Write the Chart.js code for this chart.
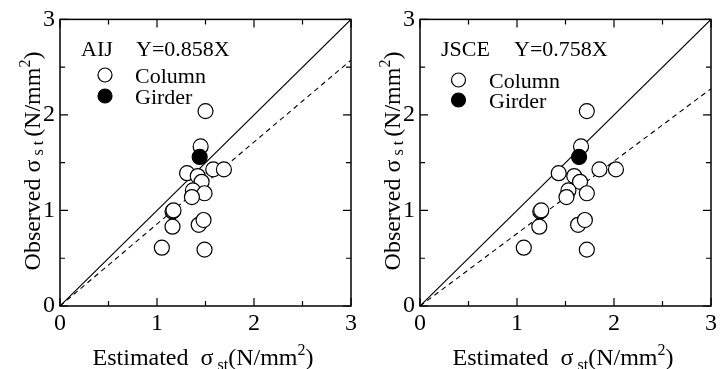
<!DOCTYPE html>
<html>
<head>
<meta charset="utf-8">
<script src="https://cdn.jsdelivr.net/npm/chart.js@4"></script>
<style>
  body { margin: 0; background: #fff; }
  .wrap { display: flex; width: 720px; height: 369px; }
  .box { width: 360px; height: 369px; position: relative; }
</style>
</head>
<body>
<div class="wrap">
  <div class="box"><canvas id="c1"></canvas></div>
  <div class="box"><canvas id="c2"></canvas></div>
</div>
<script>
// observed stress, same for both panels
const observed = [2.04, 1.67, 1.39, 1.43, 1.43, 1.36, 1.30, 1.21, 1.18, 1.14, 0.99, 1.00, 0.83, 0.85, 0.90, 0.61, 0.59];
// estimated stress, AIJ / JSCE
const estAIJ  = [1.50, 1.45, 1.31, 1.58, 1.69, 1.42, 1.46, 1.37, 1.49, 1.36, 1.16, 1.17, 1.16, 1.43, 1.48, 1.05, 1.49];
const estJSCE = [1.72, 1.66, 1.43, 1.85, 2.02, 1.59, 1.65, 1.53, 1.72, 1.51, 1.24, 1.25, 1.23, 1.63, 1.70, 1.07, 1.72];
// girder point
const girderObs = 1.56;
const girderAIJ = 1.44;
const girderJSCE = 1.64;
// regression slopes
const slopeAIJ = 0.858;
const slopeJSCE = 0.758;
const tickVals = [0, 1, 2, 3];

const FONT = '"Liberation Serif", "Times New Roman", serif';

function drawRich(ctx, parts, x, y) {
  let cx = x;
  parts.forEach(p => {
    ctx.font = p[1] + 'px ' + FONT;
    ctx.fillText(p[0], cx, y + (p[2] || 0));
    cx += ctx.measureText(p[0]).width;
  });
}
function richWidth(ctx, parts) {
  let w = 0;
  parts.forEach(p => {
    ctx.font = p[1] + 'px ' + FONT;
    w += ctx.measureText(p[0]).width;
  });
  return w;
}

const xTitle = [['Estimated  \u03c3', 24], [' st', 16, 5], ['(N/mm', 24], ['2', 16, -10], [')', 24]];
const yTitle = [['Observed \u03c3', 24], [' s t ', 16, 3], ['(N/mm', 24], ['2', 16, -10], [')', 24]];

const decor = {
  id: 'decor',
  afterDraw(chart) {
    const { ctx, chartArea: a, scales: { x, y } } = chart;
    const opt = chart.options.plugins.decor;
    ctx.save();
    ctx.strokeStyle = '#000';
    ctx.lineWidth = 1.5;
    ctx.strokeRect(a.left, a.top, a.right - a.left, a.bottom - a.top);
    ctx.lineWidth = 1.2;
    for (let v = 0; v <= 3; v += 0.5) {
      const L = v % 1 === 0 ? 8 : 5;
      const px = x.getPixelForValue(v), py = y.getPixelForValue(v);
      ctx.beginPath();
      ctx.moveTo(px, a.bottom); ctx.lineTo(px, a.bottom - L);
      ctx.moveTo(px, a.top); ctx.lineTo(px, a.top + L);
      ctx.moveTo(a.left, py); ctx.lineTo(a.left + L, py);
      ctx.moveTo(a.right, py); ctx.lineTo(a.right - L, py);
      ctx.stroke();
    }

    ctx.fillStyle = '#000';
    ctx.textBaseline = 'alphabetic';
    ctx.textAlign = 'left';
    // legend block
    ctx.font = '22px ' + FONT;
    ctx.fillText(opt.name, 81, 56);
    ctx.fillText(opt.eq, opt.eqX, 56);
    ctx.lineWidth = 1.2;
    ctx.beginPath();
    ctx.arc(opt.mx, opt.my1, 7, 0, Math.PI * 2);
    ctx.fillStyle = '#fff'; ctx.fill(); ctx.stroke();
    ctx.beginPath();
    ctx.arc(opt.mx, opt.my2, 7, 0, Math.PI * 2);
    ctx.fillStyle = '#000'; ctx.fill(); ctx.stroke();
    ctx.fillText('Column', opt.tx, opt.my1 + 8);
    ctx.fillText('Girder', opt.tx, opt.my2 + 8);

    // axis titles
    const wx = richWidth(ctx, xTitle);
    drawRich(ctx, xTitle, 203 - wx / 2, 365);
    const wy = richWidth(ctx, yTitle);
    ctx.translate(40, 161);
    ctx.rotate(-Math.PI / 2);
    drawRich(ctx, yTitle, -wy / 2, 0);
    ctx.restore();
  }
};

function makeChart(id, est, gx, slope, legend) {
  const pts = est.map((v, i) => ({ x: v, y: observed[i] }));
  return new Chart(document.getElementById(id), {
    type: 'scatter',
    data: {
      datasets: [
        { data: pts, pointRadius: 7.5, pointBorderWidth: 1.2, pointBorderColor: '#000', pointBackgroundColor: '#fff', order: 1 },
        { data: [{ x: gx, y: girderObs }], pointRadius: 7.5, pointBorderWidth: 1.2, pointBorderColor: '#000', pointBackgroundColor: '#000', order: 0 },
        { data: [{ x: 0, y: 0 }, { x: 3, y: 3 }], showLine: true, pointRadius: 0, borderColor: '#000', borderWidth: 1.1, order: 3 },
        { data: [{ x: 0, y: 0 }, { x: 3, y: 3 * slope }], showLine: true, pointRadius: 0, borderColor: '#000', borderWidth: 1.1, borderDash: [5, 4], order: 3 }
      ]
    },
    options: {
      responsive: true,
      maintainAspectRatio: false,
      animation: false,
      layout: { padding: { left: 0, right: 9, top: 17, bottom: 0 } },
      plugins: { legend: { display: false }, tooltip: { enabled: false }, decor: legend },
      scales: {
        x: {
          type: 'linear', min: 0, max: 3,
          grid: { display: false, drawTicks: false },
          border: { display: false },
          afterFit: s => { s.height = 63; },
          afterBuildTicks: s => { s.ticks = tickVals.map(v => ({ value: v })); },
          ticks: { color: '#000', padding: 3, font: { family: FONT, size: 24 }, callback: v => String(v) }
        },
        y: {
          type: 'linear', min: 0, max: 3,
          grid: { display: false, drawTicks: false },
          border: { display: false },
          afterFit: s => { s.width = 60; },
          afterBuildTicks: s => { s.ticks = tickVals.map(v => ({ value: v })); },
          ticks: { color: '#000', padding: 5, font: { family: FONT, size: 24 }, callback: v => String(v) }
        }
      }
    },
    plugins: [decor]
  });
}

makeChart('c1', estAIJ, girderAIJ, slopeAIJ,
  { name: 'AIJ', eq: 'Y=0.858X', eqX: 136, mx: 105, my1: 75, my2: 96, tx: 135 });
makeChart('c2', estJSCE, girderJSCE, slopeJSCE,
  { name: 'JSCE', eq: 'Y=0.758X', eqX: 154, mx: 98.5, my1: 80, my2: 100, tx: 129 });
</script>
</body>
</html>
